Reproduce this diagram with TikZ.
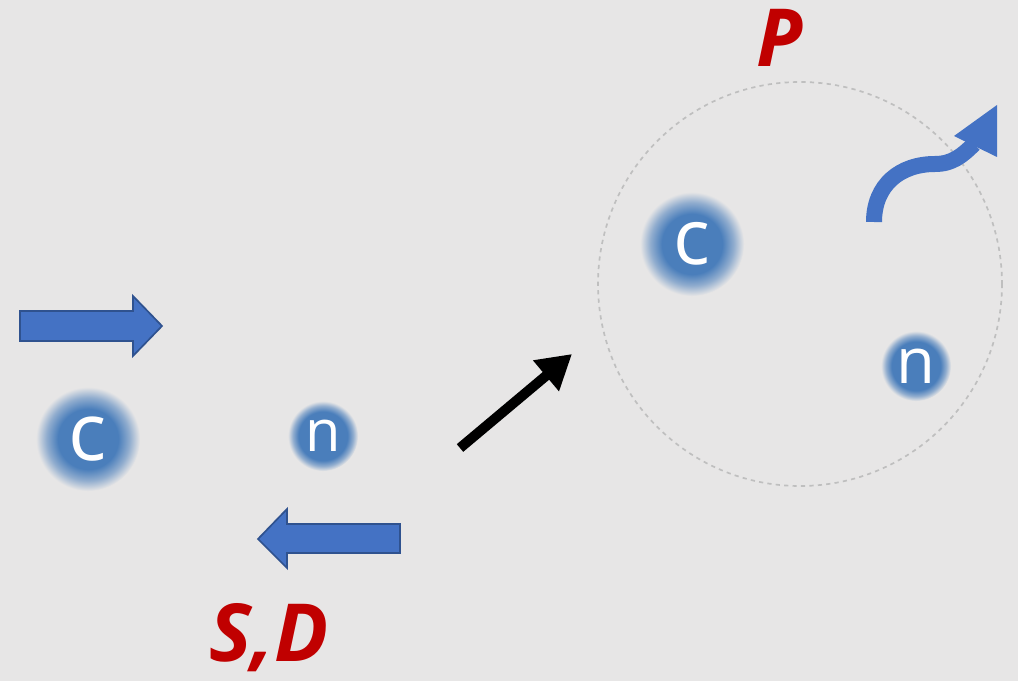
\documentclass[tikz,border=0pt]{standalone}
\usepackage{fontspec}
\setmainfont{Open Sans}
\usepackage{tikz}
\usetikzlibrary{arrows.meta}
\definecolor{bg}{HTML}{E7E6E6}
\definecolor{blob}{HTML}{4A7EBB}
\colorlet{blobmid}{blob!55!bg}
\definecolor{arrowblue}{HTML}{4472C4}
\definecolor{arrowedge}{HTML}{2F528F}
\definecolor{labelred}{HTML}{C00000}
\definecolor{ring}{HTML}{BFBFBF}
\pgfdeclareradialshading{blobbig}{\pgfpoint{0bp}{0bp}}{color(0bp)=(blob);color(14.5bp)=(blob);color(20bp)=(blobmid);color(25bp)=(bg);color(50bp)=(bg)}
\pgfdeclareradialshading{blobsmall}{\pgfpoint{0bp}{0bp}}{color(0bp)=(blob);color(17.5bp)=(blob);color(21.5bp)=(blobmid);color(25bp)=(bg);color(50bp)=(bg)}

\begin{document}
\begin{tikzpicture}[
  x=0.025cm, y=-0.025cm,
  blk/.style={fill=arrowblue,draw=arrowedge,line width=1.2pt,line join=miter},
  bigblob/.style={circle,inner sep=0pt,minimum size=2.6cm,shade,shading=blobbig,text=white,font=\fontsize{57}{60}\selectfont},
  smallblob/.style={circle,inner sep=0pt,minimum size=1.75cm,shade,shading=blobsmall,text=white,font=\fontsize{41}{48}\selectfont},
  lbl/.style={anchor=base,inner sep=0pt,text=labelred,font=\fontsize{57}{60}\selectfont\bfseries\itshape}]
  \fill[bg] (0,0) rectangle (1018,681);
  \useasboundingbox (0,0) rectangle (1018,681);
  % left: before
  \node[bigblob] (c1) at (88,439) {c};
  \node[smallblob] (n1) at (323,436) {n};
  \draw[blk] (20,311) -- (133,311) -- (133,296) -- (162,326) -- (133,356) -- (133,341) -- (20,341) -- cycle;
  \draw[blk] (400,524) -- (287,524) -- (287,509) -- (258,539) -- (287,568) -- (287,553) -- (400,553) -- cycle;
  \node[lbl] (SD) at (269,661) {S,D};
  % middle
  \coordinate (bs) at (460,448);
  \coordinate (bt) at (572,354);
  \draw[line width=0.25cm,-{Triangle[length=0.85cm,width=0.95cm]}] (bs) -- (bt);
  % right: after
  \draw[ring,dashed,line width=1.2pt] (800,284) circle [radius=202];
  \node[bigblob,font=\fontsize{55}{60}\selectfont] (c2) at (692,244) {c};
  \node[smallblob,font=\fontsize{45}{50}\selectfont] (n2) at (916,366) {n};
  \coordinate (cs) at (874,222);
  \draw[arrowblue,line width=0.4cm] (cs) .. controls (874,185) and (900,164) .. (935,164)
    .. controls (952,164) and (962,156) .. (974,144);
  \fill[arrowblue] (997,105) -- (954,136) -- (997,157) -- cycle;
  \node[lbl] (P) at (780,67) {P};
\end{tikzpicture}
\end{document}
